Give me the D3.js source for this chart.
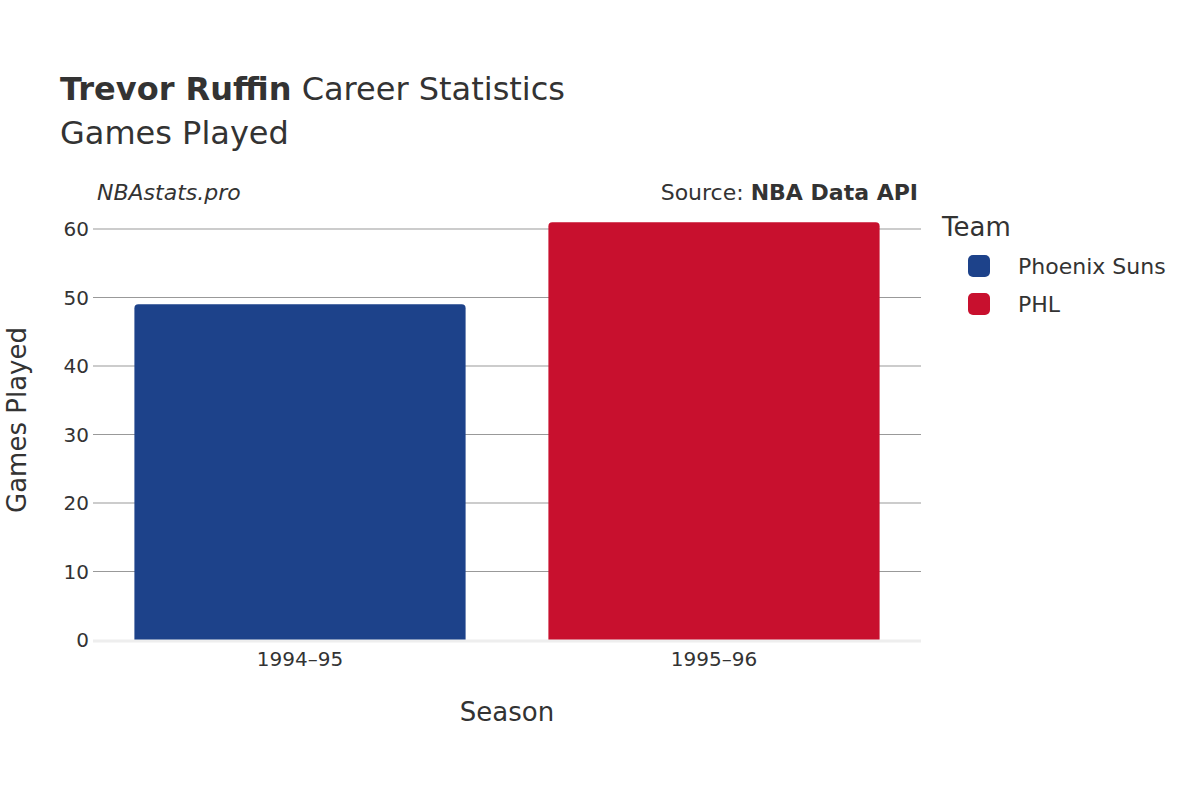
<!DOCTYPE html>
<html><head><meta charset="utf-8">
<script src="https://cdn.jsdelivr.net/npm/d3@7"></script>
<style>body{margin:0;background:#fff}text{font-family:"DejaVu Sans",sans-serif;fill:#333}</style>
</head><body>
<svg id="c" width="1200" height="800"></svg>
<script>
const seasons = ["1994–95","1995–96"];
const teams = ["Phoenix Suns","PHL"];
const games = [49,61];
const colors = ["#1D428A","#C8102E"];
const yTicks = [0,10,20,30,40,50,60];

const svg = d3.select("#c");
const L=93,R=921,T=229,B=640;
const x = d3.scaleBand().domain(seasons).range([L,R]).paddingInner(0.2).paddingOuter(0.1);
const y = d3.scaleLinear().domain([0,60]).range([B,T]);

yTicks.forEach(t=>{
  if(t>0) svg.append("line").attr("x1",L).attr("x2",R).attr("y1",y(t)).attr("y2",y(t)).attr("stroke","#999").attr("stroke-width",1);
  svg.append("text").attr("x",L-4).attr("y",y(t)).attr("dy","0.35em").attr("text-anchor","end").attr("font-size",20).text(t);
});
seasons.forEach((s,i)=>{
  const x0=x(s), w=x.bandwidth(), y0=y(games[i]), r=4;
  svg.append("path").attr("fill",colors[i])
    .attr("d",`M${x0},${B}V${y0+r}Q${x0},${y0} ${x0+r},${y0}H${x0+w-r}Q${x0+w},${y0} ${x0+w},${y0+r}V${B}Z`);
  svg.append("text").attr("x",x0+w/2).attr("y",666).attr("text-anchor","middle").attr("font-size",20).text(s);
});
svg.append("line").attr("x1",L).attr("x2",R).attr("y1",B+1).attr("y2",B+1).attr("stroke","#eee").attr("stroke-width",3);

svg.append("text").attr("x",60).attr("y",100).attr("font-size",32)
  .html('<tspan font-weight="bold">Trevor Ruffin</tspan> Career Statistics');
svg.append("text").attr("x",60).attr("y",144).attr("font-size",32).text("Games Played");
svg.append("text").attr("x",97).attr("y",200).attr("font-size",22).attr("font-style","italic").text("NBAstats.pro");
svg.append("text").attr("x",918).attr("y",200).attr("font-size",22).attr("text-anchor","end")
  .html('Source: <tspan font-weight="bold">NBA Data API</tspan>');
svg.append("text").attr("x",507).attr("y",721).attr("font-size",26).attr("text-anchor","middle").text("Season");
svg.append("text").attr("transform","translate(26,420) rotate(-90)").attr("font-size",26).attr("text-anchor","middle").text("Games Played");

svg.append("text").attr("x",942).attr("y",236).attr("font-size",26).text("Team");
teams.forEach((t,i)=>{
  const yy=266+i*38;
  svg.append("rect").attr("x",968).attr("y",yy-11).attr("width",22).attr("height",22).attr("rx",5).attr("fill",colors[i]);
  svg.append("text").attr("x",1018).attr("y",yy).attr("dy","0.35em").attr("font-size",22).text(t);
});
</script></body></html>
